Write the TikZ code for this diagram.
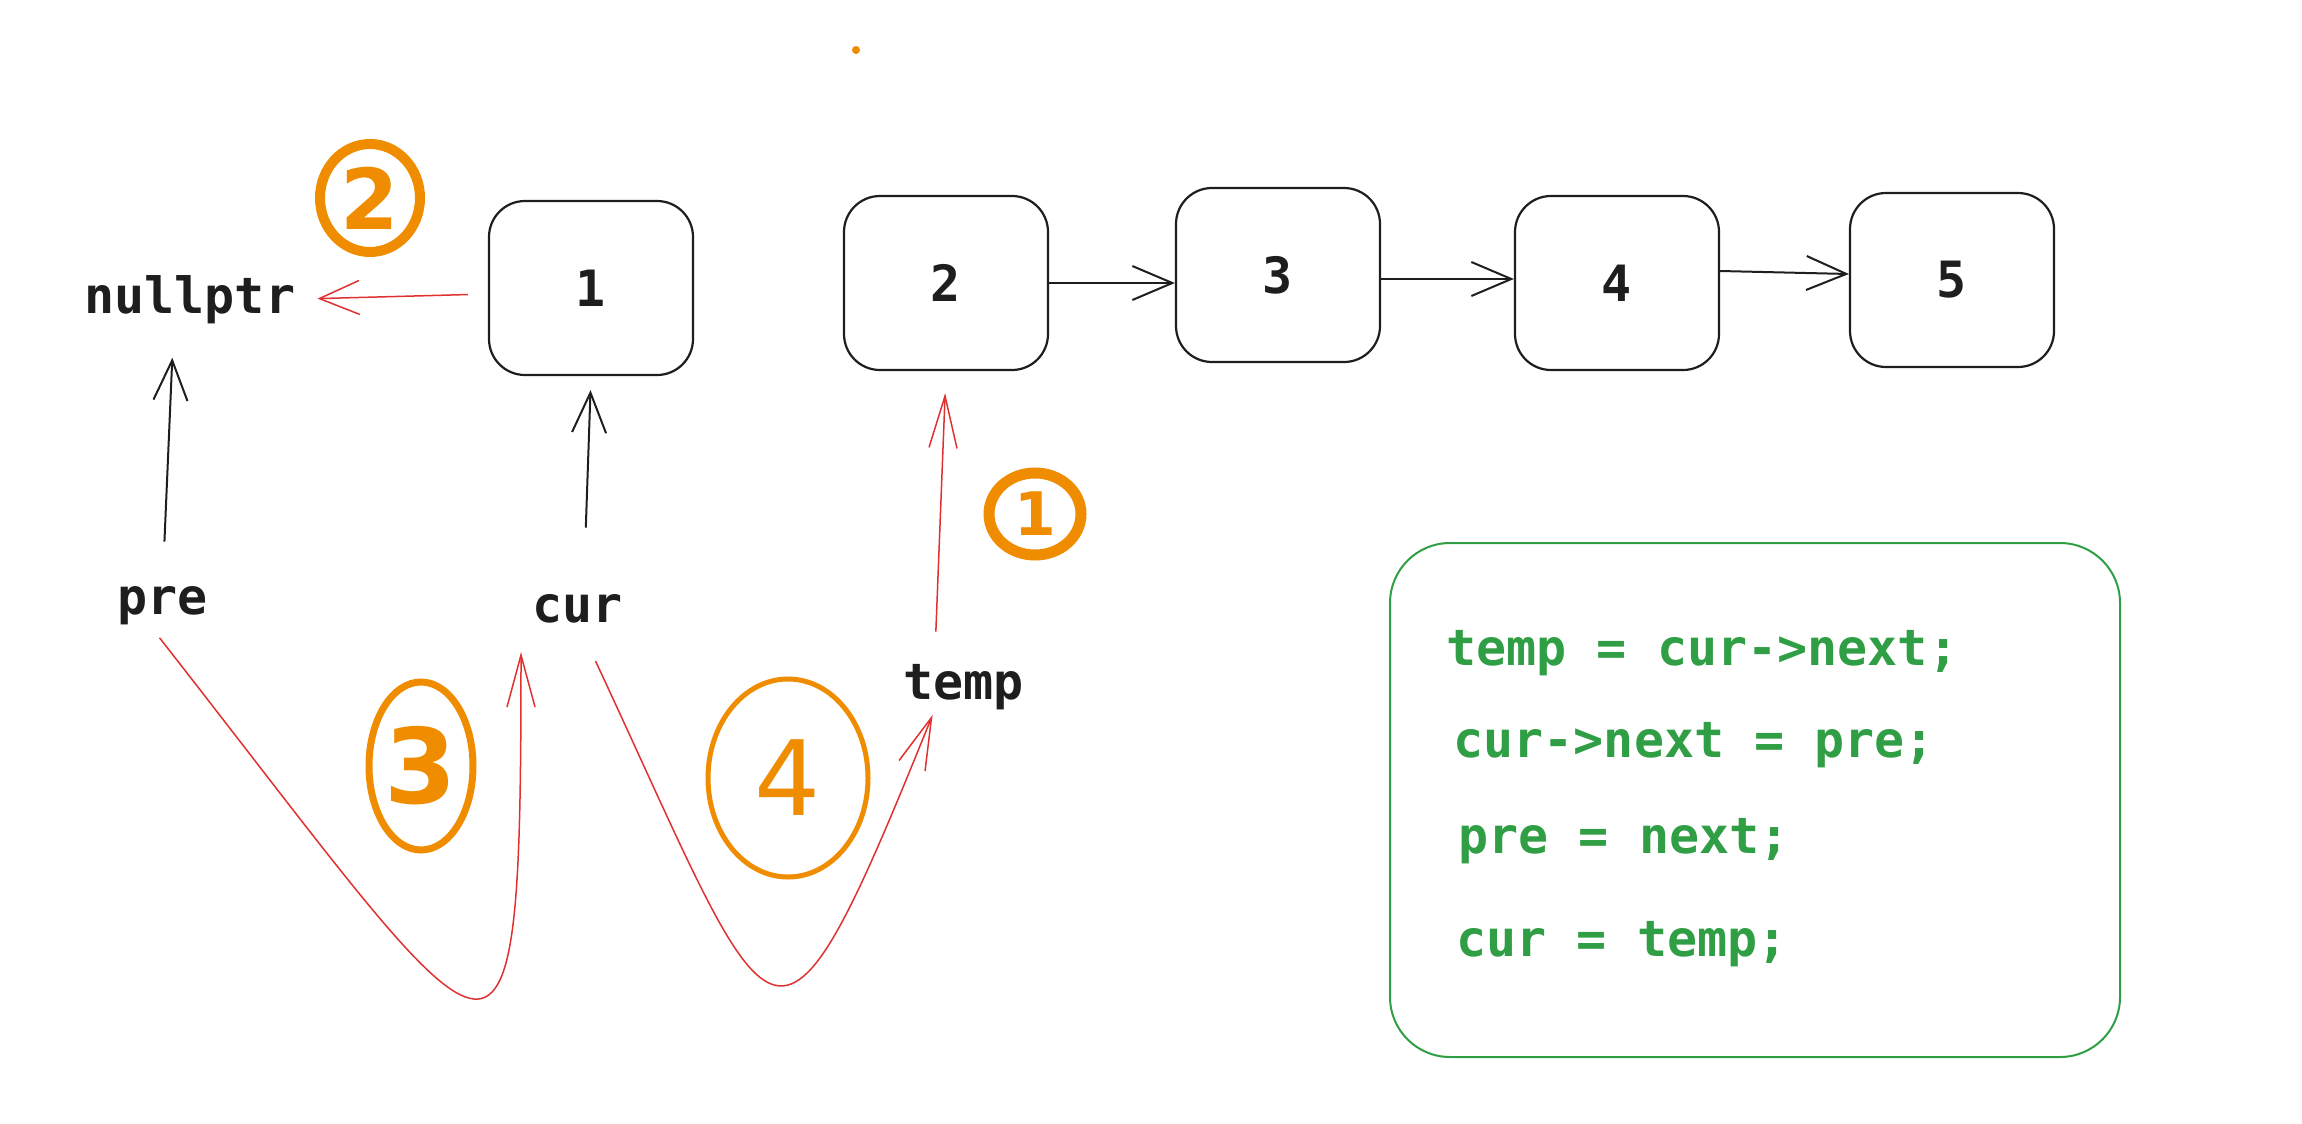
\documentclass[tikz,border=0pt]{standalone}
\usepackage{fontspec}
\setmonofont{DejaVu Sans Mono}
\newfontfamily\markfont{DejaVu Sans}
\usetikzlibrary{arrows.meta, shapes.geometric}
\definecolor{inkblack}{HTML}{1E1E1E}
\definecolor{linkred}{HTML}{E03131}
\definecolor{steporange}{HTML}{F08C00}
\definecolor{codegreen}{HTML}{2F9E44}
\newcommand{\codefont}{\ttfamily\bfseries\fontsize{25pt}{30pt}\selectfont}

\begin{document}
\begin{tikzpicture}[x=0.5pt, y=-0.5pt,
    listnode/.style={draw=inkblack, line width=1.1pt, rounded corners=18pt, minimum width=102pt, minimum height=87pt, font=\codefont, text=inkblack},
    varname/.style={anchor=base west, inner sep=0pt, font=\codefont, text=inkblack},
    codeline/.style={anchor=base west, inner sep=0pt, font=\codefont, text=codegreen},
    link/.style={-{Straight Barb[length=20pt, width=17pt]}, line width=1pt, draw=inkblack},
    redlink/.style={link, line width=0.75pt, draw=linkred},
    redlong/.style={redlink, -{Straight Barb[length=26pt, width=14pt]}},
    stepmark/.style={ellipse, draw=steporange, text=steporange, inner sep=0pt}]
    \useasboundingbox (0,0) rectangle (2302,1124);

    % Linked list
    \node[listnode] (box1) at (591,288) {1};
    \node[listnode] (box2) at (946,283) {2};
    \node[listnode] (box3) at (1278,275) {3};
    \node[listnode] (box4) at (1617,283) {4};
    \node[listnode] (box5) at (1952,280) {5};

    % Pointer names
    \node[varname] (nullptr) at (84,313) {nullptr};
    \node[varname] (pre) at (117,614) {pre};
    \node[varname] (cur) at (532,622) {cur};
    \node[varname] (temp) at (903,699) {temp};

    % Links between the nodes
    \draw[link] (box2.east) -- (box2.east -| box3.west);
    \draw[link] ([yshift=-2pt]box3.east) -- ([yshift=-2pt]box3.east -| box4.west);
    \draw[link] ([yshift=6pt]box4.east) -- ([yshift=3pt]box5.west);
    \draw[link, shorten <=22pt, shorten >=17pt] (pre.north) -- ([xshift=-8pt]nullptr.south);
    \draw[link, shorten <=33pt, shorten >=7pt] ([xshift=3pt]cur.north) -- (box1.south);

    % Steps of the reversal
    \draw[redlong, shorten <=16pt, shorten >=11pt] ([xshift=-14.5pt]temp.north) -- (box2.south);
    \draw[redlink, shorten <=10pt, shorten >=11pt] ([yshift=-3pt]box1.west) -- (nullptr.east);
    \draw[redlong] ([xshift=-1.5pt, yshift=-6.5pt]pre.south) .. controls +(345,441) and +(0,500) .. ([xshift=-5.5pt, yshift=-14.5pt]cur.south west);
    \draw[redlong] ([xshift=9pt, yshift=-19pt]cur.south) .. controls +(182,390) and +(-161,399) .. ([xshift=-15.5pt, yshift=-2.5pt]temp.south);

    % Step numbers
    \node[stepmark, line width=5pt, minimum width=50pt, minimum height=54pt, font=\markfont\bfseries\fontsize{42pt}{44pt}\selectfont] (step2) at (370,198) {2};
    \node[stepmark, line width=5.5pt, minimum width=46pt, minimum height=41pt, font=\markfont\bfseries\fontsize{30pt}{32pt}\selectfont] (step1) at (1035,514) {1};
    \node[stepmark, line width=3.5pt, minimum width=52pt, minimum height=84pt, font=\markfont\bfseries\fontsize{52pt}{54pt}\selectfont] (step3) at (421,766) {3};
    \node[stepmark, line width=2.5pt, minimum width=80pt, minimum height=99pt, font=\markfont\fontsize{52pt}{54pt}\selectfont] (step4) at (788,778) {4};
    \fill[steporange] (856,50) circle (2pt);

    % Code
    \node[draw=codegreen, line width=1pt, rounded corners=30pt, minimum width=365pt, minimum height=257pt] (codebox) at (1755,800) {};
    \node[codeline] (code1) at (1446,665) {temp = cur->next;};
    \node[codeline] (code2) at (1453,757) {cur->next = pre;};
    \node[codeline] (code3) at (1458,853) {pre = next;};
    \node[codeline] (code4) at (1456,956) {cur = temp;};
\end{tikzpicture}
\end{document}
